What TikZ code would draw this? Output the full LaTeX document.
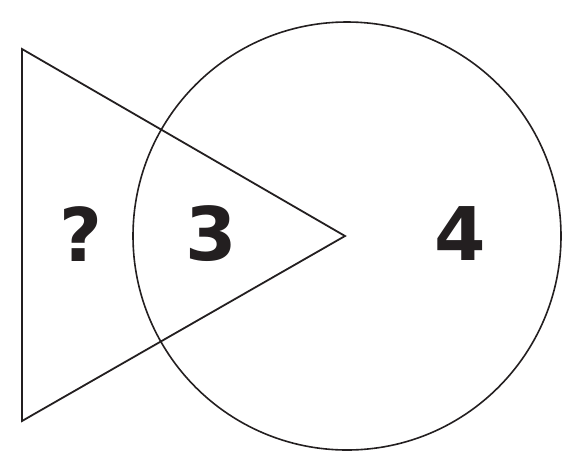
\documentclass[tikz,border=0pt]{standalone}
\usepackage{fontspec}
\setmainfont{DejaVu Sans}
\usepackage{tikz}
\definecolor{ink}{HTML}{231F20}

\begin{document}
\begin{tikzpicture}[x=1pt,y=-1pt]
            \useasboundingbox (0,0) rectangle (562,451);
            \coordinate (A) at (22,49);
            \coordinate (B) at (22,421);
            \coordinate (C) at (345,236);
            \coordinate (O) at (347,236);
            \draw[ink, line width=1.8pt, line join=miter] (A) -- (B) -- (C) -- cycle;
            \draw[ink, line width=1.6pt] (O) circle[radius=214];
            \node[ink, font=\fontsize{74}{74}\selectfont\bfseries] (q) at (81,234) {?};
            \node[ink, font=\fontsize{74}{74}\selectfont\bfseries] (three) at (211,234) {3};
            \node[ink, font=\fontsize{74}{74}\selectfont\bfseries] (four) at (460,234) {4};
        \end{tikzpicture}
\end{document}
